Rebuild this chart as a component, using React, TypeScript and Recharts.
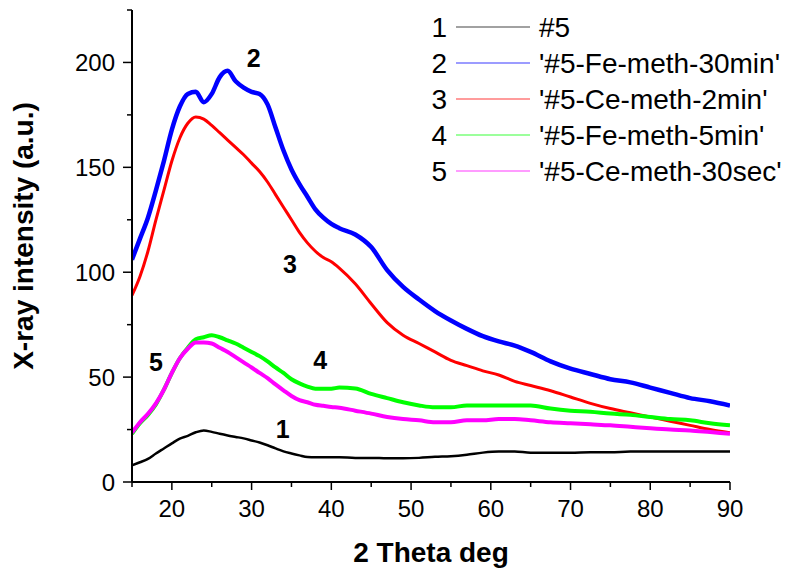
import React from 'react';
import { LineChart, Line, XAxis, YAxis, Legend, ReferenceDot, Label } from 'recharts';

const twoTheta = [
  15, 16, 17, 18, 19, 20, 21, 22, 23, 24, 25, 26, 27, 28, 29, 30, 31, 32, 33, 34, 35, 36, 37, 38, 39, 40, 41,
  43, 45, 47, 49, 51, 53, 55, 57, 59, 61, 63, 65,
  67.5, 70, 72.5, 75, 77.5, 80, 82.5, 85, 87.5, 90,
];

// 1: #5
const s1 = [
  8, 9.4, 11, 13.6, 16, 18.4, 20.7, 22, 23.7, 24.6, 23.9, 23, 22.2, 21.5, 20.8, 19.8, 18.8, 17.5, 16, 14.6, 13.6, 12.7, 11.9, 11.8, 11.8, 11.8, 11.8,
  11.5, 11.5, 11.3, 11.3, 11.5, 12, 12.3, 13, 14, 14.5, 14.5, 14,
  14, 14, 14.2, 14.2, 14.5, 14.5, 14.5, 14.5, 14.5, 14.5,
];
// 2: '#5-Fe-meth-30min'
const s2 = [
  106, 116, 126, 139, 153, 168, 179, 185, 186, 181, 185, 193, 196, 191, 188, 186, 185, 180, 169, 158, 149, 142, 136, 130, 126, 123, 121,
  118, 112, 101, 93, 87, 81.5, 77, 73, 69.5, 67, 65, 62,
  57.5, 54, 51.5, 49, 47.5, 45, 42.5, 40, 38.5, 36.5,
];
// 3: '#5-Ce-meth-2min'
const s3 = [
  89, 98, 110, 125, 139, 153, 164, 171, 174, 173, 170, 166.5, 163, 159.5, 156, 152, 148, 143, 137, 131, 125, 119, 114, 110, 107, 105, 102,
  94.5, 85, 76, 70, 66, 62, 58, 55.5, 53, 51, 48, 46,
  43.5, 40.5, 37.5, 35, 33, 31, 29, 27, 25, 23.5,
];
// 4: '#5-Fe-meth-5min'
const s4 = [
  23, 28, 32, 37, 44, 52, 59, 64, 68, 69, 70, 69, 67.5, 66, 64, 62, 60, 57.5, 54.6, 52, 49, 47, 45.5, 44.5, 44.5, 44.5, 45,
  44.6, 42, 40, 38, 36.5, 35.6, 35.6, 36.5, 36.5, 36.5, 36.5, 36.5,
  35, 34, 33.5, 32.6, 32, 31, 30, 29.4, 28, 27,
];
// 5: '#5-Ce-meth-30sec'
const s5 = [
  23.5, 28.5, 32.5, 37.5, 44, 52, 59, 63.5, 66.5, 66.5, 66, 64, 62, 59.5, 57, 54.6, 52, 49.5, 46.5, 43.7, 41, 39, 38, 36.8, 36.3, 35.8, 35.4,
  34, 32.6, 31, 30, 29.4, 28.5, 28.5, 29.4, 29.4, 30, 30, 29.4,
  28.5, 28, 27.5, 27, 26.3, 25.6, 25, 24.6, 23.8, 23,
];

const seriesKeys = ['s1', 's2', 's3', 's4', 's5'];
const seriesNames = ['#5', "'#5-Fe-meth-30min'", "'#5-Ce-meth-2min'", "'#5-Fe-meth-5min'", "'#5-Ce-meth-30sec'"];
const seriesColors = ['#000000', '#0000ff', '#ff0000', '#00ff00', '#ff00ff'];
const seriesWidths = [2.5, 4.5, 3, 4, 4];
const legendLineColors = ['#444444', '#3a3aff', '#ff3a3a', '#3aff3a', '#ff3aff'];

const xTicks = [15, 20, 25, 30, 35, 40, 45, 50, 55, 60, 65, 70, 75, 80, 85, 90];
const yTicks = [0, 25, 50, 75, 100, 125, 150, 175, 200, 225];

const annotations = [
  { x: 33.9, y: 25.4, text: '1' },
  { x: 30.25, y: 202, text: '2' },
  { x: 34.8, y: 104, text: '3' },
  { x: 38.6, y: 58, text: '4' },
  { x: 18.0, y: 57.1, text: '5' },
];

const data = twoTheta.map((x, i) => ({ x, s1: s1[i], s2: s2[i], s3: s3[i], s4: s4[i], s5: s5[i] }));

const FONT = '"Liberation Sans", Arial, Helvetica, sans-serif';
const W = 800;
const H = 578;
const margin = { top: 10, right: 70, bottom: 0, left: 72 };
const yAxisWidth = 60;
const xAxisHeight = 96;
const plotLeft = margin.left + yAxisWidth;
const plotRight = W - margin.right;
const plotTop = margin.top;
const plotBottom = H - margin.bottom - xAxisHeight;

const XTick = (props: any) => {
  const { x, y, payload } = props;
  const v = payload.value;
  const major = v % 10 === 0;
  return (
    <g>
      <line x1={x} y1={y} x2={x} y2={y + (major ? 8 : 5)} stroke="#000" strokeWidth={1.5} />
      {major && (
        <text x={x} y={y + 35} textAnchor="middle" fontSize={24} fill="#000" fontFamily={FONT}>
          {v}
        </text>
      )}
    </g>
  );
};

const YTick = (props: any) => {
  const { x, y, payload } = props;
  const v = payload.value;
  const major = v % 50 === 0;
  return (
    <g>
      <line x1={x} y1={y} x2={x - (major ? 9 : 5)} y2={y} stroke="#000" strokeWidth={1.5} />
      {major && (
        <text x={x - 17} y={y} dy="0.36em" textAnchor="end" fontSize={24} fill="#000" fontFamily={FONT}>
          {v}
        </text>
      )}
    </g>
  );
};

const renderXLabel = () => (
  <text
    x={(plotLeft + plotRight) / 2}
    y={plotBottom + 80}
    textAnchor="middle"
    fontSize={28}
    fontWeight="bold"
    fill="#000"
    fontFamily={FONT}
  >
    2 Theta deg
  </text>
);

const renderYLabel = () => {
  const cx = plotLeft - 99;
  const cy = (plotTop + plotBottom) / 2 - 10;
  return (
    <text
      x={cx}
      y={cy}
      transform={`rotate(-90, ${cx}, ${cy})`}
      textAnchor="middle"
      fontSize={28}
      fontWeight="bold"
      fill="#000"
      fontFamily={FONT}
    >
      X-ray intensity (a.u.)
    </text>
  );
};

const renderLegend = () => (
  <svg width={380} height={195} style={{ display: 'block', overflow: 'visible' }}>
    {seriesNames.map((name, i) => {
      const base = 37 + 36 * i;
      return (
        <g key={name}>
          <text x={27} y={base} textAnchor="end" fontSize={28} fill="#000" fontFamily={FONT}>
            {i + 1}
          </text>
          <line x1={36} x2={110} y1={base - 10} y2={base - 10} stroke={legendLineColors[i]} strokeWidth={1.2} />
          <text x={119} y={base} fontSize={28} fill="#000" fontFamily={FONT}>
            {name}
          </text>
        </g>
      );
    })}
  </svg>
);

export default function App() {
  return (
    <div style={{ position: 'absolute', left: 0, top: 0, width: W, height: H, background: '#fff', fontFamily: FONT }}>
      <LineChart width={W} height={H} data={data} margin={margin}>
        <XAxis
          type="number"
          dataKey="x"
          domain={[15, 90]}
          ticks={xTicks}
          interval={0}
          height={xAxisHeight}
          tick={<XTick />}
          tickLine={false}
          tickSize={0}
          tickMargin={0}
          axisLine={{ stroke: '#000', strokeWidth: 2 }}
          allowDataOverflow
        >
          <Label value="2 Theta deg" content={renderXLabel} />
        </XAxis>
        <YAxis
          type="number"
          domain={[0, 225]}
          ticks={yTicks}
          interval={0}
          width={yAxisWidth}
          tick={<YTick />}
          tickLine={false}
          tickSize={0}
          tickMargin={0}
          axisLine={{ stroke: '#000', strokeWidth: 2 }}
          allowDataOverflow
        >
          <Label value="X-ray intensity (a.u.)" content={renderYLabel} />
        </YAxis>
        <Legend
          layout="vertical"
          align="center"
          verticalAlign="middle"
          content={renderLegend}
          wrapperStyle={{ left: 420, top: 0, width: 380, height: 195 }}
        />
        {seriesKeys.map((k, i) => (
          <Line
            key={k}
            type="monotone"
            dataKey={k}
            name={seriesNames[i]}
            stroke={seriesColors[i]}
            strokeWidth={seriesWidths[i]}
            dot={false}
            activeDot={false}
            isAnimationActive={false}
          />
        ))}
        {annotations.map((a) => (
          <ReferenceDot
            key={a.text}
            x={a.x}
            y={a.y}
            r={0}
            isFront
            shape={(p: any) => (
              <text
                x={p.cx}
                y={p.cy}
                dy="0.36em"
                textAnchor="middle"
                fontSize={25}
                fontWeight="bold"
                fill="#000"
                fontFamily={FONT}
              >
                {a.text}
              </text>
            )}
          />
        ))}
      </LineChart>
    </div>
  );
}
